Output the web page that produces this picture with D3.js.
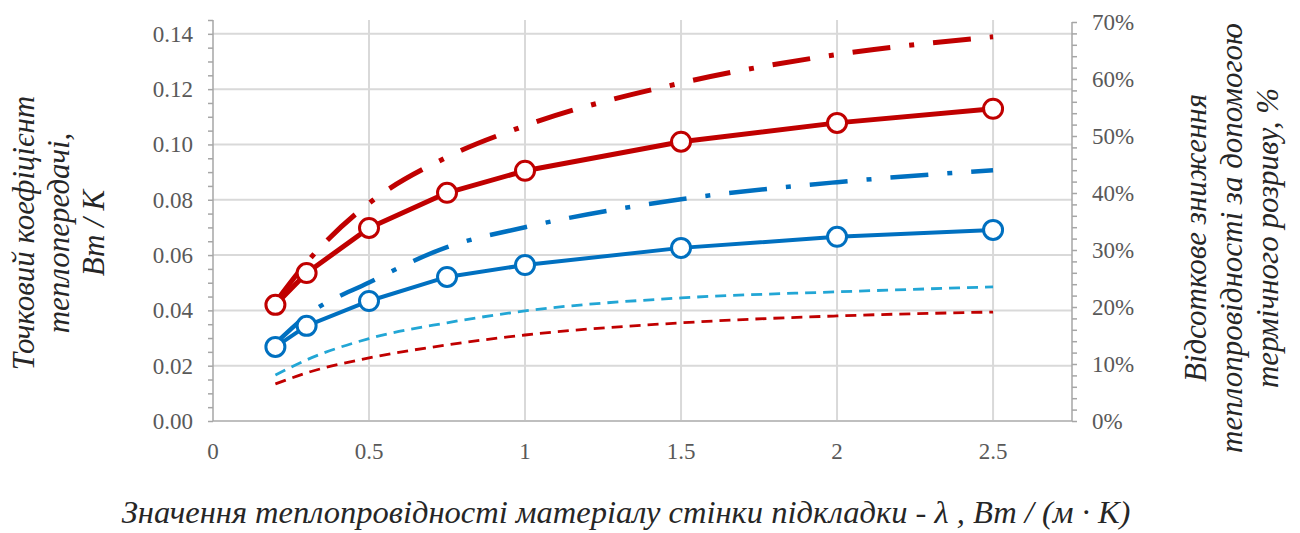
<!DOCTYPE html>
<html>
<head>
<meta charset="utf-8" />
<title>Точковий коефіцієнт теплопередачі</title>
<script src="https://d3js.org/d3.v7.min.js"></script>
<style>
body { margin: 0; background: #fff; }
svg { display: block; font-family: 'Liberation Serif', 'Times New Roman', serif; }
.tick-label { fill: #595959; font-size: 23px; }
.axis-title { fill: #262626; font-size: 31px; font-style: italic; }
</style>
</head>
<body>
<div id="chart"></div>
<script>
// lambda, W/(m*K)
var lambda = [0.2, 0.3, 0.5, 0.75, 1, 1.5, 2, 2.5];

// left axis, W/K
var redSolid   = [0.0420, 0.0535, 0.0698, 0.0825, 0.0905, 0.1010, 0.1078, 0.1129];
var blueSolid  = [0.0268, 0.0344, 0.0434, 0.0521, 0.0564, 0.0626, 0.0666, 0.0691];
var cyanDashed = [0.0166, 0.0221, 0.0298, 0.0355, 0.0398, 0.0445, 0.0467, 0.0485];
var redDashed  = [0.0134, 0.0174, 0.0228, 0.0275, 0.0311, 0.0355, 0.0380, 0.0394];

// right axis, %
var redPct  = [20.8, 27.8, 38.2, 46.3, 51.8, 59.3, 64.3, 67.4];
var bluePct = [13.6, 18.5, 24.3, 30.5, 34.0, 38.9, 41.9, 44.0];

var xTicks = [0, 0.5, 1, 1.5, 2, 2.5];
var yTicks = [0, 0.02, 0.04, 0.06, 0.08, 0.10, 0.12, 0.14];
var pctTicks = [0, 10, 20, 30, 40, 50, 60, 70];

var width = 1300, height = 533;
var plotL = 213, plotR = 1072, plotT = 20, plotB = 421;

var svg = d3.select("#chart").append("svg")
    .attr("width", width).attr("height", height);

var x = d3.scaleLinear().domain([0, 2.753]).range([plotL, plotR]);
var yL = d3.scaleLinear().domain([0, 0.145]).range([plotB, plotT]);
var yR = d3.scaleLinear().domain([0, 70]).range([plotB, 22]);

// grid
var grid = svg.append("g").attr("stroke", "#d9d9d9").attr("stroke-width", 2);
grid.selectAll(".h").data(yTicks.slice(1)).enter().append("line")
    .attr("x1", plotL).attr("x2", plotR)
    .attr("y1", function(d) { return yL(d); }).attr("y2", function(d) { return yL(d); });
grid.selectAll(".v").data(xTicks.slice(1)).enter().append("line")
    .attr("y1", plotT).attr("y2", plotB)
    .attr("x1", function(d) { return x(d); }).attr("x2", function(d) { return x(d); });

// bottom axis
svg.append("line").attr("x1", plotL).attr("x2", plotR).attr("y1", plotB).attr("y2", plotB)
    .attr("stroke", "#bfbfbf").attr("stroke-width", 2);
svg.append("g").selectAll("text").data(xTicks).enter().append("text")
    .attr("class", "tick-label")
    .attr("x", function(d) { return x(d); }).attr("y", 459)
    .attr("text-anchor", "middle")
    .text(function(d) { return d; });

// left axis
var leftAxis = d3.axisLeft(yL).tickValues(d3.range(0, 0.1451, 0.005)).tickSize(5).tickFormat("");
var gl = svg.append("g").attr("transform", "translate(" + plotL + ",0)").call(leftAxis);
gl.selectAll("path, line").attr("stroke", "#a6a6a6").attr("stroke-width", 1.5);
gl.select(".domain").attr("d", "M0," + plotT + "V" + plotB);
svg.append("g").selectAll("text").data(yTicks).enter().append("text")
    .attr("class", "tick-label")
    .attr("x", 193).attr("y", function(d) { return yL(d) + 8; })
    .attr("text-anchor", "end")
    .text(d3.format(".2f"));

// right axis
var rightAxis = d3.axisRight(yR).tickValues(d3.range(0, 70.1, 2)).tickSize(5).tickFormat("");
var gr = svg.append("g").attr("transform", "translate(" + plotR + ",0)").call(rightAxis);
gr.selectAll("path, line").attr("stroke", "#a6a6a6").attr("stroke-width", 1.5);
gr.select(".domain").attr("d", "M0,22V" + plotB);
svg.append("g").selectAll("text").data(pctTicks).enter().append("text")
    .attr("class", "tick-label")
    .attr("x", 1092).attr("y", function(d) { return yR(d) + 8; })
    .text(function(d) { return d + "%"; });

// series
function pts(vals) { return lambda.map(function(l, i) { return [l, vals[i]]; }); }
var lineL = d3.line().x(function(d) { return x(d[0]); }).y(function(d) { return yL(d[1]); });
var smoothL = d3.line().curve(d3.curveMonotoneX).x(function(d) { return x(d[0]); }).y(function(d) { return yL(d[1]); });
var smoothR = d3.line().curve(d3.curveMonotoneX).x(function(d) { return x(d[0]); }).y(function(d) { return yR(d[1]); });

var series = [
    { vals: redDashed,  line: smoothL, color: "#c00000", w: 2.8, dash: "11,7" },
    { vals: cyanDashed, line: smoothL, color: "#22a6d5", w: 2.8, dash: "11,7" },
    { vals: bluePct,    line: smoothR, color: "#0070c0", w: 4.5, dash: "38,19,5,19" },
    { vals: redPct,     line: smoothR, color: "#c00000", w: 5,   dash: "38,19,5,19" },
    { vals: blueSolid,  line: lineL,   color: "#0070c0", w: 4,   dots: true },
    { vals: redSolid,   line: lineL,   color: "#c00000", w: 5,   dots: true }
];

series.forEach(function(s) {
    svg.append("path")
        .attr("d", s.line(pts(s.vals)))
        .attr("fill", "none")
        .attr("stroke", s.color)
        .attr("stroke-width", s.w)
        .attr("stroke-dasharray", s.dash || null)
        .attr("stroke-linejoin", "round");
    if (s.dots) {
        svg.append("g").selectAll("circle").data(pts(s.vals)).enter().append("circle")
            .attr("cx", function(d) { return x(d[0]); })
            .attr("cy", function(d) { return yL(d[1]); })
            .attr("r", 9.5)
            .attr("fill", "#fff")
            .attr("stroke", s.color)
            .attr("stroke-width", 3);
    }
});

// axis titles
var leftTitle = ["Точковий коефіцієнт", "теплопередачі,", "Вт / К"];
var rightTitle = ["Відсоткове зниження", "теплопровідності за допомогою", "термічного розриву, %"];

svg.append("g").selectAll("text").data(leftTitle).enter().append("text")
    .attr("class", "axis-title")
    .attr("text-anchor", "middle")
    .attr("transform", function(d, i) { return "translate(" + (34 + i * 35) + ",233) rotate(-90)"; })
    .text(function(d) { return d; });

svg.append("g").selectAll("text").data(rightTitle).enter().append("text")
    .attr("class", "axis-title")
    .attr("text-anchor", "middle")
    .attr("transform", function(d, i) { return "translate(" + (1206 + i * 36) + ",238) rotate(-90)"; })
    .text(function(d) { return d; });

svg.append("text")
    .attr("class", "axis-title")
    .attr("x", 626).attr("y", 523)
    .attr("text-anchor", "middle")
    .style("font-size", "32.5px")
    .text("Значення теплопровідності матеріалу стінки підкладки - λ , Вт / (м · К)");
</script>
</body>
</html>
